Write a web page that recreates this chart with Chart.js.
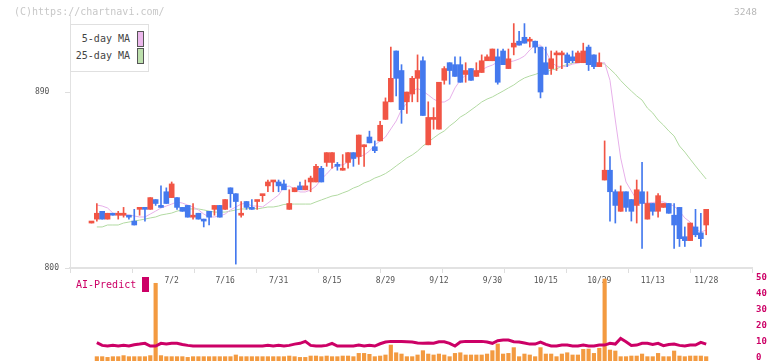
<!DOCTYPE html>
<html><head><meta charset="utf-8">
<script src="https://cdn.jsdelivr.net/npm/chart.js@4/dist/chart.umd.min.js"></script>
<style>
html,body{margin:0;padding:0;background:#fff;}
#wrap{position:relative;width:772px;height:361px;overflow:hidden;font-family:"DejaVu Sans Mono","Liberation Mono",monospace;}
canvas{position:absolute;left:0;top:0;}
.t{position:absolute;white-space:pre;line-height:12px;}
</style></head><body>
<div id="wrap">
<canvas id="main" width="772" height="361"></canvas>
<canvas id="ai" width="772" height="361"></canvas>
<div class="t" style="left:14px;top:6px;font-size:10px;color:#c8c8c8">(C)https://chartnavi.com/</div>
<div class="t" style="left:734px;top:6px;font-size:9.5px;color:#b8b8b8">3248</div>
<div style="position:absolute;left:70px;top:24px;width:77px;height:46px;border:1px solid #e0e0e0;background:#fff;">
  <div class="t" style="left:0;top:8px;width:59px;text-align:right;font-size:10px;color:#444">5-day MA</div>
  <div style="position:absolute;left:66px;top:6px;width:5px;height:14px;border:1px solid #555;background:#ecb8ec"></div>
  <div class="t" style="left:0;top:25px;width:59px;text-align:right;font-size:10px;color:#444">25-day MA</div>
  <div style="position:absolute;left:66px;top:23px;width:5px;height:14px;border:1px solid #555;background:#bde0ad"></div>
</div>
<div class="t" style="left:76px;top:279px;font-size:10px;color:#cc0066">AI-Predict</div>
<div style="position:absolute;left:142px;top:277px;width:7px;height:15px;background:#cc0066"></div>
</div>
<script>
// ---- data (index = trading day, 0 = first candle) ----
const tickLabels = ['7/2','7/16','7/31','8/15','8/29','9/12','9/30','10/15','10/29','11/13','11/28'];
const tickIndex  = [15,25,35,45,55,65,75,85,95,105,115];
const priceTicks = [800, 890];
const priceTickLabels = ['800', '890  '];
const aiTicks = [0,10,20,30,40,50];

const candleOpen = [823,825,829,825,828,827,827,827,824,830,
 831,830,835,832,839,836,836,831,832,826,
 828,825,829,830,832,830,841,838,827,834,
 831,834,837,842,844,844,843,830,839,842,
 840,844,844,851,854,854,853,850,854,859,
 857,862,867,862,865,876,885,911,901,885,
 889,897,906,863,876,871,896,905,904,904,
 899,902,898,900,906,906,908,911,902,913,
 916,918,916,916,913,905,902,909,909,909,
 908,905,905,913,909,903,845,850,839,829,
 839,835,832,839,825,833,829,831,833,827,
 831,816,814,821,818,822];
const candleHigh = [823,833,829,828,828,829,831,827,830,831,
 831,836,835,842,841,844,836,831,832,833,
 828,825,829,832,832,835,841,838,834,834,
 835,834,837,845,844,845,845,840,841,844,
 845,847,853,852,859,859,854,858,859,859,
 868,863,870,865,875,887,913,911,904,890,
 898,909,908,885,882,895,903,905,908,908,
 905,902,905,909,909,912,912,912,912,925,
 921,925,918,916,913,913,911,911,911,910,
 911,911,915,914,909,910,865,857,840,842,
 839,835,845,854,839,833,838,833,833,833,
 831,821,823,830,828,830];
const candleLow = [823,824,825,825,827,825,826,825,822,827,
 824,830,832,831,833,836,830,829,826,825,
 825,821,822,827,826,830,831,802,826,830,
 830,830,834,839,839,839,840,830,839,840,
 840,839,844,844,852,851,850,850,851,852,
 853,852,864,859,865,876,885,888,874,879,
 885,885,878,863,871,871,894,894,898,895,
 895,896,898,900,906,906,894,904,902,909,
 914,915,913,910,887,899,899,901,902,903,
 905,905,905,901,902,903,845,824,823,829,
 829,824,823,810,825,827,826,831,828,810,
 811,811,814,816,811,817];
const candleClose = [823,828,825,828,827,827,828,826,822,831,
 830,836,833,831,833,843,831,829,826,826,
 825,824,826,832,826,835,838,834,828,831,
 830,834,837,844,844,842,840,833,841,840,
 842,846,852,844,859,859,852,851,859,856,
 868,862,864,860,873,885,897,897,881,890,
 897,901,878,877,876,895,902,901,898,895,
 901,896,901,906,908,912,895,904,907,915,
 914,915,916,913,890,899,907,909,909,905,
 906,910,911,904,903,905,850,839,832,839,
 831,829,840,833,833,829,837,833,828,822,
 815,814,823,817,815,830];
const ma5 = [null,832.2,831.7,830.7,828.1,827.1,827.1,827.1,826.6,826.1,
 826.1,827.6,829.1,830.7,831.7,832.7,833.8,833.2,832.2,831.2,
 829.7,827.6,826.1,826.1,826.6,827.6,829.7,831.2,832.7,833.2,
 831.7,831.7,831.2,833.2,835.3,837.3,841.4,841.9,840.4,838.9,
 838.9,839.9,841.9,845.5,848.1,851.1,852.7,852.7,854.2,856.3,
 856.8,857.8,859.8,862.9,865.0,867.0,871.1,875.2,881.0,884.4,
 890.5,891.8,890.5,888.5,886.4,884.9,884.9,886.4,892.1,896.1,
 898.7,900.2,900.7,901.3,902.8,903.8,905.4,905.4,905.4,905.9,
 906.9,908.4,911.5,914.0,914.0,910.9,905.4,903.3,902.8,903.3,
 904.3,904.8,905.4,905.4,905.4,904.8,905.0,896.0,875.7,856.3,
 844.0,839.4,834.8,833.2,833.2,833.5,833.8,833.8,832.7,831.7,
 829.1,825.6,823.5,820.0,818.4,819.4];
const ma25 = [null,821,821,822,822,822,823,823.5,824,824.5,
 825,825.6,826.1,827.1,827.6,828.1,829.1,829.7,830.2,830.2,
 830.2,829.7,829.1,828.6,828.6,828.6,829.1,829.7,830.2,830.2,
 830.7,830.2,830.7,831.2,831.2,831.7,832.5,832.7,832.7,832.7,
 832.7,832.7,833.8,834.8,835.8,836.8,837.3,838.4,839.4,840.9,
 841.9,843.5,844.5,846,847,848.3,850.1,852.2,854.2,856.3,
 857.8,859.8,862.4,864.4,866.5,868.5,870.1,872.6,874.7,877.2,
 878.8,880.8,882.8,884.9,886.4,887.5,889,890.5,892.1,893.6,
 895.6,897.2,898.2,899,900,900.2,901.3,901.8,903.3,904,
 904.8,905.4,905.4,905.4,905.4,904.8,904.3,901.8,899.2,895.9,
 893.1,890.5,888,885.9,881.8,879.3,875.7,873.1,870.1,867.5,
 862.4,859.3,855.7,852.2,848.8,845.5];
const aiBars = [null,0.65,0.65,0.2,0.65,0.65,1.3,0.65,0.65,0.65,
 0.65,1.3,46.5,1.3,0.65,0.65,0.65,0.65,0.2,0.65,
 0.65,0.65,0.65,0.65,0.65,0.65,0.65,1.7,0.65,0.65,
 0.65,0.65,0.65,0.65,0.65,0.65,0.65,1.05,0.65,0.2,
 0.2,1.05,1.05,0.65,1.05,0.65,0.65,1.05,1.05,0.65,
 2.7,2.7,2.1,0.65,1.05,1.7,7.9,3.1,2.3,0.65,
 0.65,1.7,4.4,2.3,1.7,2.3,1.7,0.65,2.7,3.1,
 1.7,1.7,1.7,1.7,2.3,4.4,8.6,2.3,2.7,6.3,
 0.65,2.3,1.7,0.65,6.3,2.3,2.3,0.65,2.3,3.1,
 1.7,1.7,5.2,5.4,2.7,5.9,49.2,4.8,4.2,0.65,
 0.65,1.05,1.05,2.3,0.65,0.65,2.7,0.65,0.65,4.2,
 1.05,0.65,1.05,1.05,1.05,0.65];
const aiLine = [null,9.4,7.7,7.3,7.7,7.3,7.7,7.3,8.1,8.5,
 9.0,7.3,7.3,9.0,8.5,9.0,9.0,8.3,7.7,7.3,
 7.3,7.3,7.3,7.3,7.3,7.3,7.3,7.3,7.3,7.3,
 7.3,7.3,7.3,7.7,7.3,7.7,7.3,7.7,8.5,9.0,
 10.2,7.7,7.3,7.3,7.7,9.0,7.3,7.3,7.3,7.3,
 7.9,7.3,7.7,7.3,8.7,9.8,10.2,10.2,10.2,10.0,
 9.8,9.2,9.0,9.2,9.0,10,10,9,7.3,9.8,
 10.2,10.2,10.2,10.2,9.8,9,10.6,11,11,10,
 9.8,9.2,8.5,8.5,9.8,8.3,7.3,7.3,7.9,7.9,
 7.3,7.3,7.9,7.3,7.3,7.9,7.9,9,8.5,12,
 10,7.7,7.9,9,9,8.3,9,7.5,8.3,8.5,
 7.7,7.3,7.9,7.9,9.6,8.5];

// ---- layout / style ----
const MONO = "'DejaVu Sans Mono','Liberation Mono',monospace";
const X_MIN = -4.022, X_MAX = 123.57;
const Y_MIN = 800, Y_MAX = 929.4;
const AI_MIN = -2.0625, AI_MAX = 54.81;
const RED = '#f15545', BLUE = '#4479ee';
const idx = candleOpen.map((_, i) => i);
const isUp = i => candleClose[i] >= candleOpen[i];
const candleColor = ctx => isUp(ctx.dataIndex) ? RED : BLUE;

const gridTicks = [];
for (let j = 0; j <= 11; j++) gridTicks.push({value: X_MIN + j * (X_MAX - X_MIN) / 11, grid: true, label: ''});
const labelTicks = tickIndex.map((v, i) => ({value: v, grid: false, label: tickLabels[i]}));
const xTicks = gridTicks.concat(labelTicks).sort((a, b) => a.value - b.value);

new Chart(document.getElementById('main'), {
  type: 'bar',
  data: {
    datasets: [
      {type: 'line', data: idx.map(i => ({x: i, y: ma25[i]})), borderColor: '#b2daa2', borderWidth: 1, pointRadius: 0, order: 4},
      {type: 'line', data: idx.map(i => ({x: i, y: ma5[i]})), borderColor: '#e7b0ea', borderWidth: 1, pointRadius: 0, order: 3},
      {type: 'bar', data: idx.map(i => ({x: i, y: [candleLow[i], candleHigh[i]]})), backgroundColor: candleColor, barThickness: 1, grouped: false, order: 2},
      {type: 'bar', data: idx.map(i => ({x: i, y: [candleOpen[i], candleClose[i]]})), backgroundColor: candleColor, barThickness: 5, minBarLength: 2, grouped: false, order: 1}
    ]
  },
  options: {
    responsive: false, animation: false, devicePixelRatio: 1, events: [],
    layout: {autoPadding: false, padding: {left: 0, right: 20, top: 15, bottom: 73}},
    plugins: {legend: {display: false}, tooltip: {enabled: false}},
    scales: {
      x: {
        type: 'linear', min: X_MIN, max: X_MAX, offset: false,
        afterBuildTicks: s => { s.ticks = xTicks.map(t => ({value: t.value})); },
        afterFit: s => { s.height = 20; s.paddingLeft = 0; s.paddingRight = 0; },
        ticks: {autoSkip: false, maxRotation: 0, padding: 3, color: '#555', font: {family: MONO, size: 8},
          callback: (v, i) => xTicks[i].label},
        grid: {offset: false, drawOnChartArea: false, drawTicks: true, tickLength: 5,
          color: ctx => (ctx.tick && xTicks[ctx.index] && xTicks[ctx.index].grid) ? '#dedede' : 'rgba(0,0,0,0)'},
        border: {display: true, color: '#e2e2e2', width: 2}
      },
      y: {
        min: Y_MIN, max: Y_MAX,
        afterBuildTicks: s => { s.ticks = priceTicks.map(v => ({value: v})); },
        afterFit: s => { s.width = 70; s.paddingTop = 0; s.paddingBottom = 0; },
        ticks: {padding: 6, color: '#555', font: {family: MONO, size: 8},
          callback: (v, i) => priceTickLabels[i]},
        grid: {drawOnChartArea: false, drawTicks: true, tickLength: 5, color: '#dedede'},
        border: {display: true, color: '#e2e2e2', width: 1}
      }
    }
  }
});

new Chart(document.getElementById('ai'), {
  type: 'bar',
  data: {
    datasets: [
      {type: 'line', data: idx.map(i => ({x: i, y: aiLine[i]})), borderColor: '#cc0066', borderWidth: 3, pointRadius: 0, order: 1},
      {type: 'bar', data: idx.map(i => ({x: i, y: aiBars[i]})), backgroundColor: '#f39a40', barThickness: 3.5, base: AI_MIN, grouped: false, order: 2}
    ]
  },
  options: {
    responsive: false, animation: false, devicePixelRatio: 1, events: [],
    layout: {autoPadding: false, padding: {left: 70, right: 0, top: 270, bottom: 0}},
    plugins: {legend: {display: false}, tooltip: {enabled: false}},
    scales: {
      x: {type: 'linear', min: X_MIN, max: X_MAX, offset: false, display: false, grid: {offset: false}},
      y: {
        position: 'right', min: AI_MIN, max: AI_MAX,
        afterBuildTicks: s => { s.ticks = aiTicks.map(v => ({value: v})); },
        afterFit: s => { s.width = 20; s.paddingTop = 0; s.paddingBottom = 0; },
        ticks: {padding: 4, color: '#cc0066', font: {family: MONO, size: 9, weight: 'bold'}},
        grid: {display: false, drawTicks: false},
        border: {display: false}
      }
    }
  }
});
</script>
</body></html>
